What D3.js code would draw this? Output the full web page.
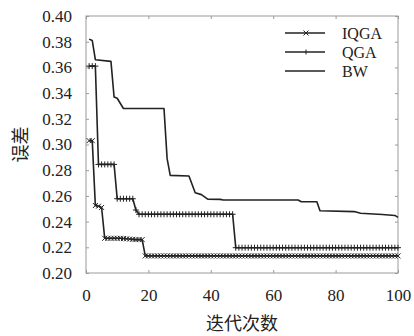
<!DOCTYPE html>
<html>
<head>
<meta charset="utf-8">
<script src="https://cdn.jsdelivr.net/npm/d3@7"></script>
<style>
  body { margin: 0; background: #fff; }
</style>
</head>
<body>
<div id="canvas"></div>
<script>
// Series names, as shown in the legend.
const seriesNames = ["IQGA", "QGA", "BW"];

// Iterations 1..100 for the two marked series.
const iterations = d3.range(1, 101);

// IQGA error at every iteration.
const iqgaValues = [
  0.303, 0.303, 0.2525, 0.252, 0.251, 0.227, 0.227, 0.227, 0.227, 0.227,
  0.227, 0.2268, 0.2266, 0.2264, 0.2262, 0.226, 0.226, 0.226, 0.2133, 0.2133,
  0.2133, 0.2133, 0.2133, 0.2133, 0.2133, 0.2133, 0.2133, 0.2133, 0.2133, 0.2133,
  0.2133, 0.2133, 0.2133, 0.2133, 0.2133, 0.2133, 0.2133, 0.2133, 0.2133, 0.2133,
  0.2133, 0.2133, 0.2133, 0.2133, 0.2133, 0.2133, 0.2133, 0.2133, 0.2133, 0.2133,
  0.2133, 0.2133, 0.2133, 0.2133, 0.2133, 0.2133, 0.2133, 0.2133, 0.2133, 0.2133,
  0.2133, 0.2133, 0.2133, 0.2133, 0.2133, 0.2133, 0.2133, 0.2133, 0.2133, 0.2133,
  0.2133, 0.2133, 0.2133, 0.2133, 0.2133, 0.2133, 0.2133, 0.2133, 0.2133, 0.2133,
  0.2133, 0.2133, 0.2133, 0.2133, 0.2133, 0.2133, 0.2133, 0.2133, 0.2133, 0.2133,
  0.2133, 0.2133, 0.2133, 0.2133, 0.2133, 0.2133, 0.2133, 0.2133, 0.2133, 0.2133
];

// QGA error at every iteration.
const qgaValues = [
  0.361, 0.361, 0.361, 0.2845, 0.2845, 0.2845, 0.2845, 0.2845, 0.2845, 0.2578,
  0.2578, 0.2578, 0.2578, 0.2578, 0.2578, 0.249, 0.2457, 0.2457, 0.2457, 0.2457,
  0.2457, 0.2457, 0.2457, 0.2457, 0.2457, 0.2457, 0.2457, 0.2457, 0.2457, 0.2457,
  0.2457, 0.2457, 0.2457, 0.2457, 0.2457, 0.2457, 0.2457, 0.2457, 0.2457, 0.2457,
  0.2457, 0.2457, 0.2457, 0.2457, 0.2457, 0.2457, 0.2457, 0.2197, 0.2197, 0.2197,
  0.2197, 0.2197, 0.2197, 0.2197, 0.2197, 0.2197, 0.2197, 0.2197, 0.2197, 0.2197,
  0.2197, 0.2197, 0.2197, 0.2197, 0.2197, 0.2197, 0.2197, 0.2197, 0.2197, 0.2197,
  0.2197, 0.2197, 0.2197, 0.2197, 0.2197, 0.2197, 0.2197, 0.2197, 0.2197, 0.2197,
  0.2197, 0.2197, 0.2197, 0.2197, 0.2197, 0.2197, 0.2197, 0.2197, 0.2197, 0.2197,
  0.2197, 0.2197, 0.2197, 0.2197, 0.2197, 0.2197, 0.2197, 0.2197, 0.2197, 0.2197
];

// BW curve, given by the iterations where it changes.
const bwIterations = [1, 2, 3, 8, 9, 10, 12, 25, 26, 27, 33, 35, 37, 39, 43, 44, 68, 69, 74, 75, 86, 88, 95, 99, 100];
const bwValues = [0.382, 0.381, 0.366, 0.3647, 0.337, 0.336, 0.328, 0.328, 0.289, 0.276,
  0.2755, 0.2625, 0.261, 0.2575, 0.2573, 0.2568, 0.2568, 0.2555, 0.2555, 0.2485,
  0.2478, 0.2465, 0.2455, 0.2448, 0.2433];

// Tick labels.
const xTicks = [0, 20, 40, 60, 80, 100];
const yTicks = [0.20, 0.22, 0.24, 0.26, 0.28, 0.30, 0.32, 0.34, 0.36, 0.38, 0.40];

const xTitle = "迭代次数";
const yTitle = "误差";

const w = 414, h = 336;
const margin = { top: 16, right: 16, bottom: 63, left: 86 };
const iw = w - margin.left - margin.right;
const ih = h - margin.top - margin.bottom;

const serif = "'Liberation Serif', 'DejaVu Serif', serif";
const cjk = "'Noto Sans CJK SC', sans-serif";

const svg = d3.select("#canvas")
  .append("svg")
  .attr("width", w)
  .attr("height", h);

const g = svg.append("g")
  .attr("transform", `translate(${margin.left},${margin.top})`);

const x = d3.scaleLinear().domain([0, 100]).range([0, iw]);
const y = d3.scaleLinear().domain([0.20, 0.40]).range([ih, 0]);

const frameColor = "#9a9a9a";
const lineColor = "#222";

// Axes with inward ticks on all four sides.
const tickLen = 3;
function styleAxis(sel) {
  sel.select(".domain").remove();
  sel.selectAll(".tick line").attr("stroke", frameColor);
  sel.selectAll(".tick text")
    .attr("fill", "#222")
    .attr("font-size", 17)
    .style("font-family", serif);
}
g.append("g")
  .attr("transform", `translate(0,${ih})`)
  .call(d3.axisBottom(x).tickValues(xTicks).tickSize(-tickLen).tickPadding(16).tickFormat(d3.format("d")))
  .call(styleAxis);
g.append("g")
  .call(d3.axisTop(x).tickValues(xTicks).tickSize(-tickLen).tickFormat(""))
  .call(styleAxis);
g.append("g")
  .call(d3.axisLeft(y).tickValues(yTicks).tickSize(-tickLen).tickPadding(14).tickFormat(d3.format(".2f")))
  .call(styleAxis);
g.append("g")
  .attr("transform", `translate(${iw},0)`)
  .call(d3.axisRight(y).tickValues(yTicks).tickSize(-tickLen).tickFormat(""))
  .call(styleAxis);

g.append("rect")
  .attr("width", iw)
  .attr("height", ih)
  .attr("fill", "none")
  .attr("stroke", frameColor)
  .attr("stroke-width", 1);

const line = d3.line().x(d => x(d[0])).y(d => y(d[1]));

const bw = bwIterations.map((it, i) => [it, bwValues[i]]);
const iqga = iterations.map((it, i) => [it, iqgaValues[i]]);
const qga = iterations.map((it, i) => [it, qgaValues[i]]);

[bw, qga, iqga].forEach(series => {
  g.append("path").datum(series)
    .attr("d", line)
    .attr("fill", "none")
    .attr("stroke", lineColor)
    .attr("stroke-width", 1.6)
    .attr("stroke-linejoin", "round");
});

// Markers: "+" for QGA, "x" for IQGA.
const plusPath = "M-3,0H3M0,-3V3";
const crossPath = "M-2.5,-2.5L2.5,2.5M-2.5,2.5L2.5,-2.5";

g.selectAll(".qga-mark")
  .data(qga)
  .enter()
  .append("path")
  .attr("class", "qga-mark")
  .attr("transform", d => `translate(${x(d[0])},${y(d[1])})`)
  .attr("d", plusPath)
  .attr("stroke", lineColor)
  .attr("stroke-width", 1)
  .attr("fill", "none");

g.selectAll(".iqga-mark")
  .data(iqga)
  .enter()
  .append("path")
  .attr("class", "iqga-mark")
  .attr("transform", d => `translate(${x(d[0])},${y(d[1])})`)
  .attr("d", crossPath)
  .attr("stroke", lineColor)
  .attr("stroke-width", 1)
  .attr("fill", "none");

// Legend.
const legend = svg.append("g").attr("transform", "translate(285,33)");
const legendMarks = [crossPath, "M0,-2.5V2.5", null];
seriesNames.forEach((name, i) => {
  const row = legend.append("g").attr("transform", `translate(0,${i * 19})`);
  row.append("line")
    .attr("x1", 0).attr("x2", 40)
    .attr("stroke", lineColor).attr("stroke-width", 1.6);
  if (legendMarks[i]) {
    row.append("path")
      .attr("transform", "translate(21,0)")
      .attr("d", legendMarks[i])
      .attr("stroke", lineColor).attr("stroke-width", 1)
      .attr("fill", "none");
  }
  row.append("text")
    .attr("x", 57)
    .attr("y", 5.5)
    .attr("font-size", 16)
    .attr("fill", "#222")
    .style("font-family", serif)
    .text(name);
});

// Axis titles.
svg.append("text")
  .attr("x", margin.left + iw / 2)
  .attr("y", 330)
  .attr("text-anchor", "middle")
  .attr("font-size", 18)
  .attr("fill", "#222")
  .style("font-family", cjk)
  .text(xTitle);

svg.append("text")
  .attr("transform", `translate(27,${margin.top + ih / 2}) rotate(-90)`)
  .attr("text-anchor", "middle")
  .attr("font-size", 18)
  .attr("fill", "#222")
  .style("font-family", cjk)
  .text(yTitle);
</script>
</body>
</html>
